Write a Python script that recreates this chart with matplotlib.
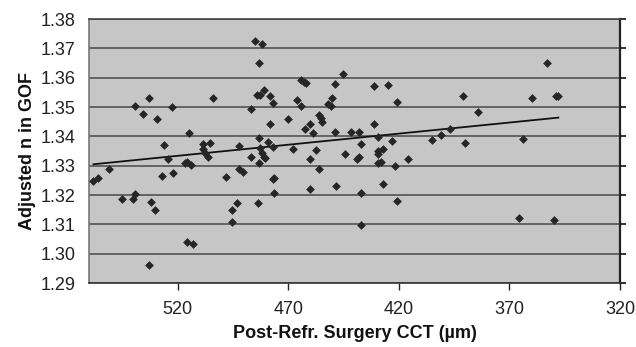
import numpy as np
import matplotlib
matplotlib.use("Agg")
import matplotlib.pyplot as plt

plt.rcParams['font.family'] = ['Liberation Sans', 'DejaVu Sans']

# Post-refractive-surgery central corneal thickness (um)
cct = [558.0, 556.1, 550.9, 545.1, 540.3, 539.1, 539.1, 535.8, 533.0, 533.0,
       532.0, 530.0, 529.2, 527.1, 526.1, 524.1, 522.4, 522.1, 516.7, 515.6,
       514.0, 515.9, 513.0, 514.9, 508.3, 508.3, 507.6, 506.2, 505.2, 504.0,
       498.3, 492.1, 492.1, 490.4, 495.2, 495.2, 493.2, 486.8, 486.8, 484.9,
       481.8, 483.0, 484.2, 482.7, 480.8, 483.0, 478.0, 476.9, 478.0, 479.2,
       476.9, 482.7, 482.0, 481.1, 483.0, 480.6, 483.8, 476.9, 476.2, 476.2,
       469.9, 467.9, 466.0, 464.1, 464.1, 463.0, 462.1, 462.5, 460.0, 458.8,
       460.3, 457.3, 456.0, 455.0, 454.7, 456.0, 460.3, 450.0, 452.0, 450.8,
       449.0, 445.2, 449.0, 448.2, 444.4, 441.4, 437.9, 439.1, 437.9, 437.1,
       437.1, 436.9, 431.1, 425.1, 420.9, 431.1, 429.2, 422.9, 429.2, 427.3,
       429.2, 429.2, 428.2, 421.7, 416.0, 427.3, 420.9, 405.0, 400.9, 397.0,
       390.9, 384.1, 389.9, 365.9, 364.1, 359.9, 353.0, 350.0, 348.9, 347.9]

# Adjusted refractive index in the Goldmann formula
n_gof = [1.3249, 1.3257, 1.3289, 1.3186, 1.3186, 1.3204, 1.3503, 1.3477, 1.3530, 1.2960,
         1.3175, 1.3149, 1.3459, 1.3264, 1.3369, 1.3322, 1.3499, 1.3274, 1.3308, 1.3313,
         1.3302, 1.3041, 1.3033, 1.3412, 1.3374, 1.3357, 1.3342, 1.3331, 1.3376, 1.3531,
         1.3260, 1.3368, 1.3289, 1.3278, 1.3149, 1.3107, 1.3172, 1.3492, 1.3330, 1.3726,
         1.3715, 1.3649, 1.3541, 1.3541, 1.3558, 1.3395, 1.3537, 1.3515, 1.3441, 1.3382,
         1.3363, 1.3359, 1.3342, 1.3331, 1.3310, 1.3325, 1.3172, 1.3253, 1.3257, 1.3208,
         1.3459, 1.3357, 1.3524, 1.3504, 1.3592, 1.3586, 1.3581, 1.3425, 1.3442, 1.3412,
         1.3322, 1.3353, 1.3473, 1.3461, 1.3450, 1.3289, 1.3219, 1.3530, 1.3510, 1.3504,
         1.3577, 1.3612, 1.3416, 1.3231, 1.3340, 1.3416, 1.3416, 1.3322, 1.3328, 1.3206,
         1.3097, 1.3373, 1.3573, 1.3576, 1.3517, 1.3442, 1.3398, 1.3383, 1.3350, 1.3357,
         1.3340, 1.3308, 1.3313, 1.3300, 1.3322, 1.3237, 1.3180, 1.3386, 1.3404, 1.3424,
         1.3536, 1.3484, 1.3376, 1.3120, 1.3390, 1.3530, 1.3649, 1.3114, 1.3537, 1.3536]

x_ticks = [520, 470, 420, 370, 320]
y_ticks = [1.29, 1.30, 1.31, 1.32, 1.33, 1.34, 1.35, 1.36, 1.37, 1.38]

fig = plt.figure(figsize=(6.36, 3.47), dpi=100)
ax = fig.add_axes([0.140, 0.1844, 0.835, 0.7608])
ax.set_facecolor('#c6c6c6')

# horizontal gridlines
for yv in y_ticks:
    ax.axhline(yv, color='#4a4a4a', lw=1.1, zorder=1)

ax.scatter(cct, n_gof, marker='D', s=20, color='#262626', zorder=3, linewidths=0)

# linear trendline over the data range
x = np.array(cct)
slope, intercept = np.polyfit(x, np.array(n_gof), 1)
xs = np.array([x.max(), x.min()])
ax.plot(xs, slope * xs + intercept, color='#111111', lw=1.3, zorder=2)

ax.set_xlim(560, 320)
ax.set_ylim(1.29, 1.38)
ax.set_xticks(x_ticks)
ax.set_yticks(y_ticks)
ax.set_yticklabels([f'{v:.2f}' for v in y_ticks])

ax.tick_params(axis='y', left=False, right=True, labelleft=True, labelright=False,
               direction='out', length=4, width=1.3, color='#222222',
               labelsize=13, labelcolor='#222222', pad=6)
ax.tick_params(axis='x', direction='out', length=5, width=1, color='#222222',
               labelsize=13, labelcolor='#222222', pad=8)

ax.spines['left'].set_color('#777777')
ax.spines['left'].set_linewidth(1.2)
ax.spines['top'].set_color('#444444')
ax.spines['top'].set_linewidth(1.2)
ax.spines['right'].set_color('#222222')
ax.spines['right'].set_linewidth(1.6)
ax.spines['bottom'].set_color('#333333')
ax.spines['bottom'].set_linewidth(1.2)

ax.set_xlabel('Post-Refr. Surgery CCT (µm)', fontsize=13, fontweight='bold',
              color='#111111', labelpad=5)
ax.set_ylabel('Adjusted n in GOF', fontsize=13, fontweight='bold',
              color='#111111', labelpad=3)

fig.savefig('out.png', dpi=100)
